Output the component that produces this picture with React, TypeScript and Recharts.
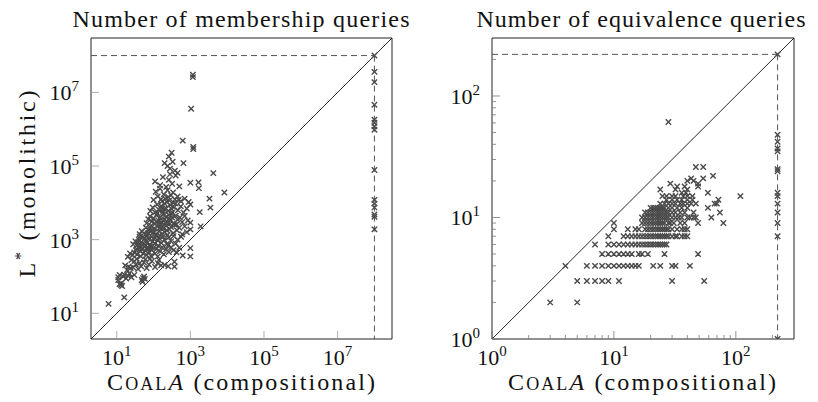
import React from "react";
import {
  ScatterChart,
  Scatter,
  XAxis,
  YAxis,
  ReferenceLine,
  ReferenceArea,
} from "recharts";

// membership queries: [CoalA (compositional), L* (monolithic)]
const mqPoints: [number, number][] = [
  [6, 18], [16, 27],
  [11, 95], [11, 80], [12, 62], [13, 58], [14, 55], [13, 65], [15, 100], [12, 110], [16, 112], [20, 105],
  [18, 88], [22, 120], [48, 80], [52, 90], [55, 100], [50, 72], [58, 86], [25, 95], [30, 110],
  [17, 200], [21, 185], [24, 170], [28, 175], [19, 150], [33, 210], [38, 160], [42, 230], [46, 190],
  [55, 240], [65, 170], [75, 210], [90, 260], [110, 180], [130, 230], [160, 200], [200, 205], [250, 190],
  [370, 250], [370, 185], [30, 260], [25, 280], [35, 300], [60, 290], [80, 300], [140, 280],
  [20, 340], [23, 420], [27, 380], [30, 450], [33, 520], [36, 400], [40, 600], [44, 480], [48, 550],
  [52, 420], [56, 640], [60, 500], [65, 380], [70, 580], [75, 460], [80, 650], [90, 520], [100, 600],
  [110, 420], [120, 560], [135, 680], [150, 480], [170, 620], [190, 400], [220, 550], [260, 460],
  [300, 620], [350, 520], [420, 450], [500, 600], [620, 370], [1000, 590], [1000, 350], [45, 350],
  [85, 360], [130, 350],
  [28, 750], [32, 900], [36, 700], [40, 1000], [45, 820], [50, 1150], [55, 760], [60, 950], [65, 1250],
  [70, 850], [75, 1050], [80, 720], [90, 1200], [95, 900], [100, 1050], [110, 780], [120, 1250],
  [130, 950], [140, 1100], [160, 820], [180, 1200], [200, 980], [230, 760], [260, 1150], [300, 900],
  [350, 1250], [400, 780], [450, 1000], [560, 1200], [250, 700], [42, 1200], [62, 700],
  [42, 1400], [48, 1700], [55, 1500], [62, 2100], [68, 1350], [75, 1800], [85, 2400], [95, 1550],
  [105, 2000], [115, 1350], [125, 2300], [140, 1700], [155, 2500], [170, 1450], [185, 2000], [200, 1600],
  [220, 2400], [240, 1350], [270, 1900], [300, 2200], [340, 1500], [380, 2500], [430, 1800], [500, 2100],
  [600, 1400], [700, 2300], [800, 1600], [1900, 2300], [1000, 1900], [90, 1850], [150, 2100],
  [65, 2800], [72, 3600], [80, 4300], [90, 3100], [100, 3800], [110, 2700], [120, 4600], [135, 3300],
  [150, 4000], [165, 2900], [180, 4800], [200, 3500], [220, 4200], [240, 3000], [260, 4700], [290, 3300],
  [320, 4000], [360, 2800], [400, 4500], [450, 3500], [520, 4000], [600, 3000], [700, 4400], [850, 3300],
  [1000, 2900], [1800, 5600], [280, 2700], [140, 2700],
  [82, 6000], [95, 7500], [110, 5500], [125, 9000], [140, 6500], [160, 8200], [180, 5600], [200, 9500],
  [220, 7000], [250, 6000], [280, 8800], [320, 5500], [360, 7500], [400, 9600], [460, 6300], [550, 8000],
  [650, 5500], [800, 7000], [1000, 9000], [3500, 7400], [170, 7000], [300, 7000],
  [100, 12000], [115, 20000], [130, 15000], [150, 24000], [170, 11000], [190, 17000], [210, 13000],
  [240, 22000], [270, 11500], [300, 16000], [340, 19000], [380, 12500], [450, 15000], [550, 11000],
  [700, 13000], [900, 10500], [1700, 25000], [3300, 13000], [8400, 19000], [250, 14500],
  [110, 38000], [150, 30000], [180, 50000], [220, 27000], [260, 42000], [320, 33000], [400, 55000],
  [500, 28000], [1000, 35000], [1660, 36000], [4200, 64000], [280, 60000],
  [200, 120000], [240, 100000], [280, 85000], [330, 130000], [380, 75000], [450, 65000], [650, 120000],
  [310, 230000], [260, 180000],
  [620, 490000], [1200, 330000], [1200, 290000], [1050, 3600000], [1170, 30000000], [1170, 26000000],
  // extra density in the core
  [35, 560], [38, 850], [46, 640], [58, 1100], [66, 560], [72, 1500], [78, 2000], [88, 650], [105, 1600],
  [118, 3000], [128, 5200], [145, 1300], [160, 3600], [175, 2200], [195, 6800], [210, 2900], [230, 1800],
  [265, 3800], [310, 5000], [350, 10000], [420, 2600], [480, 12000], [230, 10500], [160, 12500],
];
const mqTimeout = 1e8;
// CoalA timed out: monolithic counts
const mqTimeoutMono = [1e8, 3.6e7, 1.9e7, 4.6e6, 1.8e6, 1.5e6, 1.2e6, 9.7e5, 7.8e4, 1.2e4, 9.5e3, 7.5e3, 4.8e3, 4.2e3, 1.9e3];

// equivalence queries: rows of [CoalA values] for each L* value
const eqRows: [number, number[]][] = [
  [2, [3, 5]],
  [3, [5, 6, 7, 8, 9, 11, 30, 55]],
  [4, [4, 6, 7, 8, 9, 10, 11, 12, 13, 14, 15, 16, 21, 24, 30, 32, 42]],
  [5, [8, 9, 10, 11, 12, 13, 14, 16, 17, 19, 26, 49]],
  [6, [7, 9, 10, 11, 12, 13, 14, 15, 16, 17, 18, 19, 20, 21, 22, 23, 24, 25, 26, 27]],
  [7, [9, 12, 13, 14, 15, 16, 17, 18, 19, 20, 21, 22, 23, 24, 25, 26, 27, 28, 30, 32, 33, 36, 38, 40]],
  [8, [10, 13, 15, 16, 18, 19, 20, 21, 22, 23, 24, 25, 26, 27, 28, 30, 33, 36, 38, 40]],
  [9, [10, 17, 18, 19, 20, 21, 22, 23, 24, 25, 26, 28, 29, 31, 35, 38, 49, 79]],
  [10, [17, 18, 19, 20, 21, 22, 23, 24, 25, 26, 27, 28, 30, 32, 34, 36, 40, 42, 45, 47, 63]],
  [11, [18, 19, 20, 21, 22, 23, 24, 25, 26, 27, 28, 30, 32, 35, 38, 45, 74]],
  [12, [20, 21, 22, 23, 24, 25, 26, 28, 30, 33, 36, 40, 59]],
  [13, [24, 26, 28, 30, 32, 35, 37, 40, 43, 47, 67, 70]],
  [14, [27, 30, 33, 36, 40, 44, 72]],
  [15, [25, 27, 30, 32, 37, 40, 44, 109]],
  [16, [36, 39, 59]],
  [17, [24, 32, 40]],
  [18, [33, 38, 49]],
  [19, [29, 49]],
  [20, [40, 45]],
  [21, [43, 54]],
  [22, [65]],
  [26, [47, 54]],
  [61, [28]],
];
const eqTimeout = 220;
const eqTimeoutMono = [220, 48, 42, 37, 35, 25, 24, 16, 15, 13, 11, 9, 7, 1];

const mqTicks = [10, 1e3, 1e5, 1e7];
const eqMajor = [1, 10, 100];
const eqMinor = [2, 3, 4, 5, 6, 7, 8, 9, 20, 30, 40, 50, 60, 70, 80, 90, 200];

const FONT = "'Liberation Serif', 'DejaVu Serif', serif";
const MARK = "#4a4a4a";

const Cross = (props: any) => {
  const { cx, cy } = props;
  if (cx == null || cy == null) return null;
  const r = 2.7;
  return (
    <path
      d={`M${cx - r},${cy - r}L${cx + r},${cy + r}M${cx - r},${cy + r}L${cx + r},${cy - r}`}
      stroke={MARK}
      strokeWidth={1.4}
      fill="none"
    />
  );
};

const Pow = ({ v }: { v: number }) => (
  <>
    10
    <tspan dy={-9} fontSize={15}>
      {Math.round(Math.log10(v))}
    </tspan>
  </>
);

const xTick = (majors: number[], color: string) => (props: any) => {
  const { x, y, payload } = props;
  const major = majors.includes(payload.value);
  return (
    <g>
      <line x1={x} x2={x} y1={y} y2={y - (major ? 8 : 4)} stroke={color} strokeWidth={0.8} />
      {major && (
        <text x={x} y={y + 26} textAnchor="middle" fontFamily={FONT} fontSize={22} fill="#111">
          <Pow v={payload.value} />
        </text>
      )}
    </g>
  );
};

const yTick = (majors: number[], color: string) => (props: any) => {
  const { x, y, payload } = props;
  const major = majors.includes(payload.value);
  return (
    <g>
      <line x1={x} x2={x + (major ? 8 : 4)} y1={y} y2={y} stroke={color} strokeWidth={0.8} />
      {major && (
        <text x={x - 12} y={y + 8} textAnchor="end" fontFamily={FONT} fontSize={22} fill="#111">
          <Pow v={payload.value} />
        </text>
      )}
    </g>
  );
};

export default function App() {
  const mqData = mqPoints.map(([x, y]) => ({ x, y }));
  const mqTo = mqTimeoutMono.map((y) => ({ x: mqTimeout, y }));
  const eqData = eqRows.flatMap(([y, xs]) => xs.map((x) => ({ x, y })));
  const eqTo = eqTimeoutMono.map((y) => ({ x: eqTimeout, y }));

  const mqDom: [number, number] = [2, 3e8];
  const eqDom: [number, number] = [1, 300];

  return (
    <div style={{ position: "absolute", left: 0, top: 0, width: 818, height: 402, background: "#fff" }}>
      <div style={{ position: "absolute", left: 0, top: 0 }}>
        <ScatterChart width={409} height={402} margin={{ top: 38, right: 17, bottom: 0, left: 0 }}>
          <XAxis
            dataKey="x"
            type="number"
            scale="log"
            domain={mqDom}
            allowDataOverflow
            ticks={mqTicks}
            interval={0}
            height={63}
            axisLine={false}
            tickLine={false}
            tickSize={0}
            tickMargin={0}
            tick={xTick(mqTicks, "#999")}
          />
          <YAxis
            dataKey="y"
            type="number"
            scale="log"
            domain={mqDom}
            allowDataOverflow
            ticks={mqTicks}
            interval={0}
            width={91}
            axisLine={false}
            tickLine={false}
            tickSize={0}
            tickMargin={0}
            tick={yTick(mqTicks, "#999")}
          />
          <ReferenceArea x1={mqDom[0]} x2={mqDom[1]} y1={mqDom[0]} y2={mqDom[1]} fill="none" fillOpacity={0} stroke="#222" strokeWidth={1} />
          <ReferenceLine segment={[{ x: mqDom[0], y: mqDom[0] }, { x: mqDom[1], y: mqDom[1] }]} stroke="#111" strokeWidth={0.9} />
          <ReferenceLine segment={[{ x: mqDom[0], y: mqTimeout }, { x: mqTimeout, y: mqTimeout }]} stroke="#555" strokeDasharray="6 4" strokeWidth={1} />
          <ReferenceLine segment={[{ x: mqTimeout, y: mqTimeout }, { x: mqTimeout, y: mqDom[0] }]} stroke="#555" strokeDasharray="6 4" strokeWidth={1} />
          <Scatter data={mqData} shape={Cross} isAnimationActive={false} />
          <Scatter data={mqTo} shape={Cross} isAnimationActive={false} />
        </ScatterChart>
      </div>
      <div style={{ position: "absolute", left: 409, top: 0 }}>
        <ScatterChart width={409} height={402} margin={{ top: 38, right: 24, bottom: 0, left: 0 }}>
          <XAxis
            dataKey="x"
            type="number"
            scale="log"
            domain={eqDom}
            allowDataOverflow
            ticks={[...eqMajor, ...eqMinor]}
            interval={0}
            height={63}
            axisLine={false}
            tickLine={false}
            tickSize={0}
            tickMargin={0}
            tick={xTick(eqMajor, "#777")}
          />
          <YAxis
            dataKey="y"
            type="number"
            scale="log"
            domain={eqDom}
            allowDataOverflow
            ticks={[...eqMajor, ...eqMinor]}
            interval={0}
            width={83}
            axisLine={false}
            tickLine={false}
            tickSize={0}
            tickMargin={0}
            tick={yTick(eqMajor, "#777")}
          />
          <ReferenceArea x1={eqDom[0]} x2={eqDom[1]} y1={eqDom[0]} y2={eqDom[1]} fill="none" fillOpacity={0} stroke="#222" strokeWidth={1} />
          <ReferenceLine segment={[{ x: eqDom[0], y: eqDom[0] }, { x: eqDom[1], y: eqDom[1] }]} stroke="#111" strokeWidth={0.9} />
          <ReferenceLine segment={[{ x: eqDom[0], y: eqTimeout }, { x: eqTimeout, y: eqTimeout }]} stroke="#555" strokeDasharray="6 4" strokeWidth={1} />
          <ReferenceLine segment={[{ x: eqTimeout, y: eqTimeout }, { x: eqTimeout, y: eqDom[0] }]} stroke="#555" strokeDasharray="6 4" strokeWidth={1} />
          <Scatter data={eqData} shape={Cross} isAnimationActive={false} />
          <Scatter data={eqTo} shape={Cross} isAnimationActive={false} />
        </ScatterChart>
      </div>
      <svg width={818} height={402} style={{ position: "absolute", left: 0, top: 0, pointerEvents: "none" }} fontFamily={FONT} fill="#111">
        <text x={241} y={27} fontSize={24} textAnchor="middle" textLength={337} lengthAdjust="spacing">
          Number of membership queries
        </text>
        <text x={641} y={27} fontSize={24} textAnchor="middle" textLength={329} lengthAdjust="spacing">
          Number of equivalence queries
        </text>
        {[241, 642].map((cx) => (
          <text key={cx} x={cx} y={390} fontSize={24} textAnchor="middle" textLength={268} lengthAdjust="spacing">
            C<tspan fontSize={18}>OAL</tspan>
            <tspan fontStyle="italic">A</tspan> (compositional)
          </text>
        ))}
        <text transform="translate(35,184) rotate(-90)" fontSize={24} textAnchor="middle" textLength={187} lengthAdjust="spacing">
          L<tspan dy={-9} fontSize={16}>*</tspan>
          <tspan dy={9}> (monolithic)</tspan>
        </text>
      </svg>
    </div>
  );
}
